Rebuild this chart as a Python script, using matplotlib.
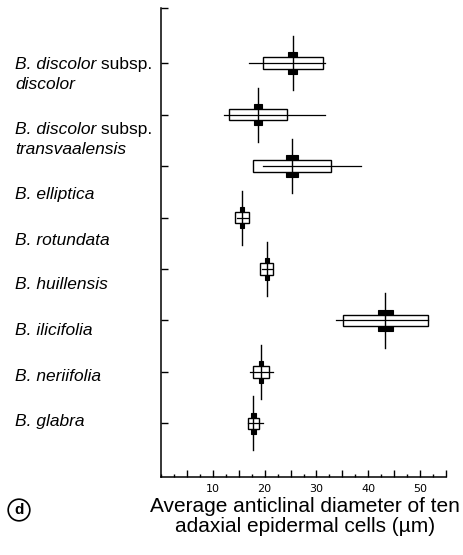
import matplotlib
matplotlib.use('Agg')
import matplotlib.pyplot as plt
from matplotlib.patches import Rectangle
from matplotlib.ticker import MultipleLocator

plt.rcParams['font.family'] = ['Liberation Sans', 'DejaVu Sans']

# species, top to bottom: italic name, upright rank, italic second line
names = ['B. discolor', 'B. discolor', 'B. elliptica', 'B. rotundata',
         'B. huillensis', 'B. ilicifolia', 'B. neriifolia', 'B. glabra']
rank = [' subsp.', ' subsp.', '', '', '', '', '', '']
infra = ['discolor', 'transvaalensis', '', '', '', '', '', '']

# diameters in um
mean = [25.4, 18.7, 25.3, 15.6, 20.4, 43.3, 19.3, 17.8]
sd = [5.8, 5.6, 7.55, 1.35, 1.25, 8.15, 1.45, 1.1]
se2 = [0.87, 0.83, 1.1, 0.4, 0.35, 1.45, 0.42, 0.45]
vmin = [16.9, 12.1, 19.7, 14.6, 19.5, 33.7, 17.2, 16.7]
vmax = [31.6, 31.7, 38.6, 16.8, 21.5, 51.6, 21.7, 19.7]

# pixel rows of the first line of each name (not aligned to the ticks)
label_rows = [63, 128, 193, 239, 283, 329, 375, 420]

W, H = 464, 555
fig = plt.figure(figsize=(W / 100, H / 100), dpi=100)
ax = fig.add_axes([161 / W, 1 - 477 / H, (446 - 161) / W, (477 - 8) / H])

box_h = 0.23
black_h = 0.42
stem_h = 1.05
for i in range(len(mean)):
    ax.add_patch(Rectangle((mean[i] - se2[i], i - black_h / 2), 2 * se2[i], black_h,
                           facecolor='black', edgecolor='black', lw=0.8, zorder=2))
    ax.add_patch(Rectangle((mean[i] - sd[i], i - box_h / 2), 2 * sd[i], box_h,
                           facecolor='white', edgecolor='black', lw=1.0, zorder=3))
    ax.plot([vmin[i], vmax[i]], [i, i], color='black', lw=0.9, zorder=4)
    ax.plot([mean[i], mean[i]], [i - stem_h / 2, i + stem_h / 2], color='black', lw=1.0, zorder=4)

ax.set_xlim(0, 55)
ax.set_ylim(8.04, -1.07)
for s in ['top', 'right']:
    ax.spines[s].set_visible(False)
for s in ['left', 'bottom']:
    ax.spines[s].set_linewidth(1.1)

ax.set_yticks(list(range(len(mean))) + [-1.07])
ax.set_yticklabels([])
ax.tick_params(axis='y', direction='in', length=5, width=1)
ax.xaxis.set_minor_locator(MultipleLocator(2.5))
ax.set_xticks([5, 10, 15, 20, 25, 30, 35, 40, 45, 50, 55])
ax.set_xticklabels(['', '10', '', '20', '', '30', '', '40', '', '50', ''])
ax.tick_params(axis='x', which='major', direction='in', length=5, width=1, pad=5,
               labelsize=8)
ax.tick_params(axis='x', which='minor', direction='in', length=2, width=1)
for t in ax.get_xticklabels():
    t.set_family('DejaVu Sans')

fs = 12.5
fig.canvas.draw()
for nm, rk, sub, row in zip(names, rank, infra, label_rows):
    base = 1 - (row + 6) / H
    t = fig.text(15 / W, base, nm, fontsize=fs, style='italic', ha='left', va='baseline')
    if rk:
        bb = t.get_window_extent(renderer=fig.canvas.get_renderer())
        fig.text(bb.x1 / W, base, rk, fontsize=fs, ha='left', va='baseline')
    if sub:
        fig.text(15 / W, base - 20 / H, sub, fontsize=fs, style='italic',
                 ha='left', va='baseline')

fig.text(305 / W, 1 - 507 / H, 'Average anticlinal diameter of ten', fontsize=15,
         ha='center', va='center')
fig.text(305 / W, 1 - 527 / H, 'adaxial epidermal cells (\u00b5m)', fontsize=15,
         ha='center', va='center')

fig.text(19 / W, 1 - 510 / H, 'd', fontsize=11, fontweight='bold', ha='center', va='center',
         bbox=dict(boxstyle='circle,pad=0.25', facecolor='white', edgecolor='black', lw=1.2))

fig.savefig('out.png', dpi=100)
